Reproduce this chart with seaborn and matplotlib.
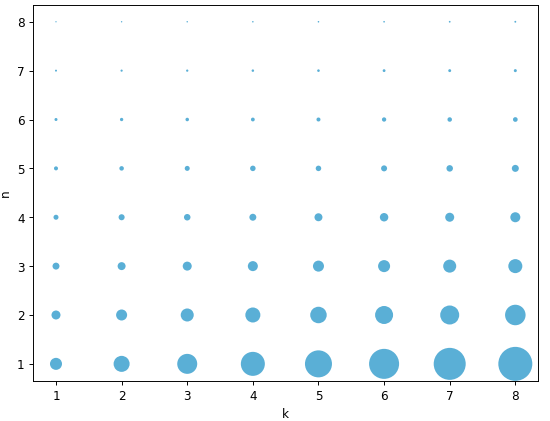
import matplotlib
matplotlib.use("Agg")
import matplotlib.pyplot as plt
import seaborn as sns
import pandas as pd

k_values = [1, 2, 3, 4, 5, 6, 7, 8]
n_values = [1, 2, 3, 4, 5, 6, 7, 8]

# estimated marker areas per row n, for k = 1..8
size_n1 = [75, 133, 207, 299, 378, 467, 531, 599]
size_n2 = [42, 63, 88, 117, 141, 168, 187, 218]
size_n3 = [25, 33, 42, 52, 63, 75, 88, 102]
size_n4 = [13, 19, 22, 25, 33, 37, 42, 52]
size_n5 = [8.3, 10.5, 13, 15.7, 15.7, 18.7, 21.9, 25.4]
size_n6 = [4.7, 5.7, 6.4, 7.5, 8.3, 9.6, 10.5, 11.4]
size_n7 = [2.1, 2.5, 2.7, 3.2, 3.5, 4.1, 4.4, 4.7]
size_n8 = [0.9, 1.0, 1.1, 1.2, 1.3, 1.4, 1.6, 1.8]

rows = [size_n1, size_n2, size_n3, size_n4, size_n5, size_n6, size_n7, size_n8]
records = []
for n, row in zip(n_values, rows):
    for k, s in zip(k_values, row):
        records.append({"k": k, "n": n, "s": s})
df = pd.DataFrame(records)

fig = plt.figure(figsize=(6.4, 4.9), dpi=86)
ax = fig.add_axes([0.06, 0.095, 0.918, 0.893])
smin, smax = df["s"].min(), df["s"].max()
scale = (72 / 86) ** 2 / 0.72 ** 2
sns.scatterplot(data=df, x="k", y="n", size="s",
                sizes=(smin * scale, smax * scale),
                size_norm=(smin, smax), legend=False, color="#5aafd6",
                linewidth=0, ax=ax)
ax.set_xticks(k_values)
ax.set_yticks(n_values)
ax.set_xlabel("k")
ax.set_ylabel("n")
fig.savefig("out.png", dpi=86)
